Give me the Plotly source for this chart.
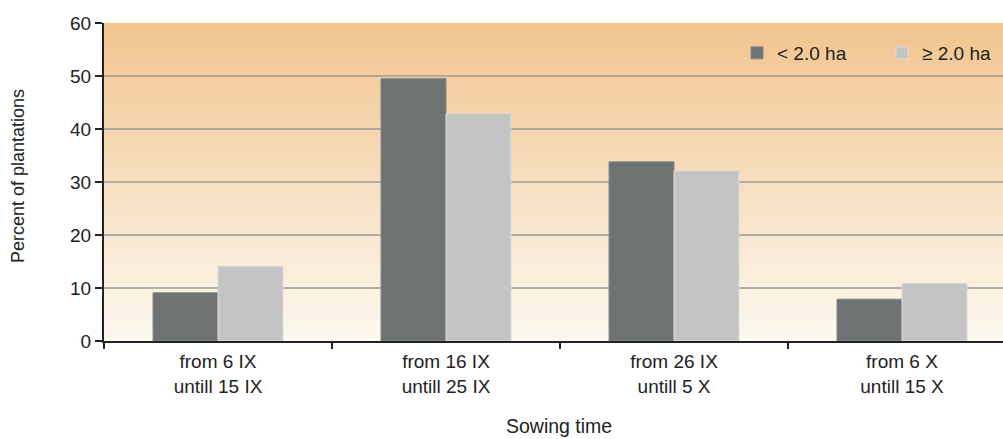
import plotly.graph_objects as go

categories = ["from 6 IX<br>untill 15 IX", "from 16 IX<br>untill 25 IX",
              "from 26 IX<br>untill 5 X", "from 6 X<br>untill 15 X"]
small_farms = [9.1, 49.5, 33.8, 7.9]     # < 2.0 ha
large_farms = [14.1, 42.9, 32.1, 10.9]   # >= 2.0 ha
y_ticks = [0, 10, 20, 30, 40, 50, 60]

W, H = 1003, 439
L, T, B = 104, 23, 98
PW, PH = W - L, H - T - B
TXT = "#222222"
FS = 19

fig = go.Figure()
fig.add_trace(go.Bar(x=categories, y=small_farms, name="< 2.0 ha",
                     marker=dict(color="#6f7272", line=dict(color="#858888", width=1))))
fig.add_trace(go.Bar(x=categories, y=large_farms, name="≥ 2.0 ha",
                     marker=dict(color="#c4c4c4", line=dict(color="#dedbd6", width=1))))

# vertical warm gradient behind the plot area (overlapping bands, no seams)
def mix(c1, c2, t):
    return "rgb(%d,%d,%d)" % tuple(round(a + (b - a) * t) for a, b in zip(c1, c2))

top, bottom = (242, 196, 143), (252, 249, 240)
n = 100
shapes = []
for i in range(n):
    shapes.append(dict(type="rect", xref="x domain", yref="y domain",
                       x0=0, x1=1, y0=0, y1=1 - i / n,
                       fillcolor=mix(top, bottom, i / (n - 1)),
                       line=dict(width=0), layer="below"))
for v in y_ticks[1:-1]:
    shapes.append(dict(type="line", xref="x domain", yref="y", x0=0, x1=1, y0=v, y1=v,
                       line=dict(color="#9a9a9a", width=1.4), layer="below"))

fig.update_layout(
    width=W, height=H,
    margin=dict(l=L, r=0, t=T, b=B, autoexpand=False),
    paper_bgcolor="white", plot_bgcolor="rgba(0,0,0,0)",
    font=dict(family="Liberation Sans, Arial, sans-serif", size=FS, color=TXT),
    barmode="group", bargap=0.43, bargroupgap=0,
    shapes=shapes,
    showlegend=True,
    legend=dict(orientation="h", x=(737 - L) / PW, xanchor="left",
                y=1 - (34 - T) / PH, yanchor="top",
                bgcolor="rgba(0,0,0,0)", font=dict(size=FS, color=TXT),
                entrywidth=100, entrywidthmode="pixels", traceorder="normal"),
    annotations=[
        dict(text="Sowing time", xref="paper", yref="paper",
             x=(559 - L) / PW, y=-(426 - (T + PH)) / PH,
             xanchor="center", yanchor="middle", showarrow=False,
             font=dict(size=19.5, color=TXT)),
        dict(text="Percent of plantations", xref="paper", yref="paper",
             x=-(L - 18) / PW, y=1 - (176 - T) / PH, textangle=-90,
             xanchor="center", yanchor="middle", showarrow=False,
             font=dict(size=18, color=TXT)),
    ],
)
fig.update_xaxes(range=[-0.5, -0.5 + PW / 228.0], showline=True, linecolor=TXT,
                 linewidth=2, ticks="outside", tickson="boundaries", ticklen=6,
                 tickcolor=TXT, tickwidth=2, showgrid=False, ticklabelstandoff=2,
                 tickfont=dict(size=FS, color=TXT))
fig.update_yaxes(range=[0, 60], tickvals=y_ticks, showline=True, linecolor=TXT,
                 linewidth=2, ticks="outside", ticklen=7, tickcolor=TXT, tickwidth=1.5,
                 showgrid=False, zeroline=False, tickfont=dict(size=19, color=TXT))

fig.write_html("out.html")
